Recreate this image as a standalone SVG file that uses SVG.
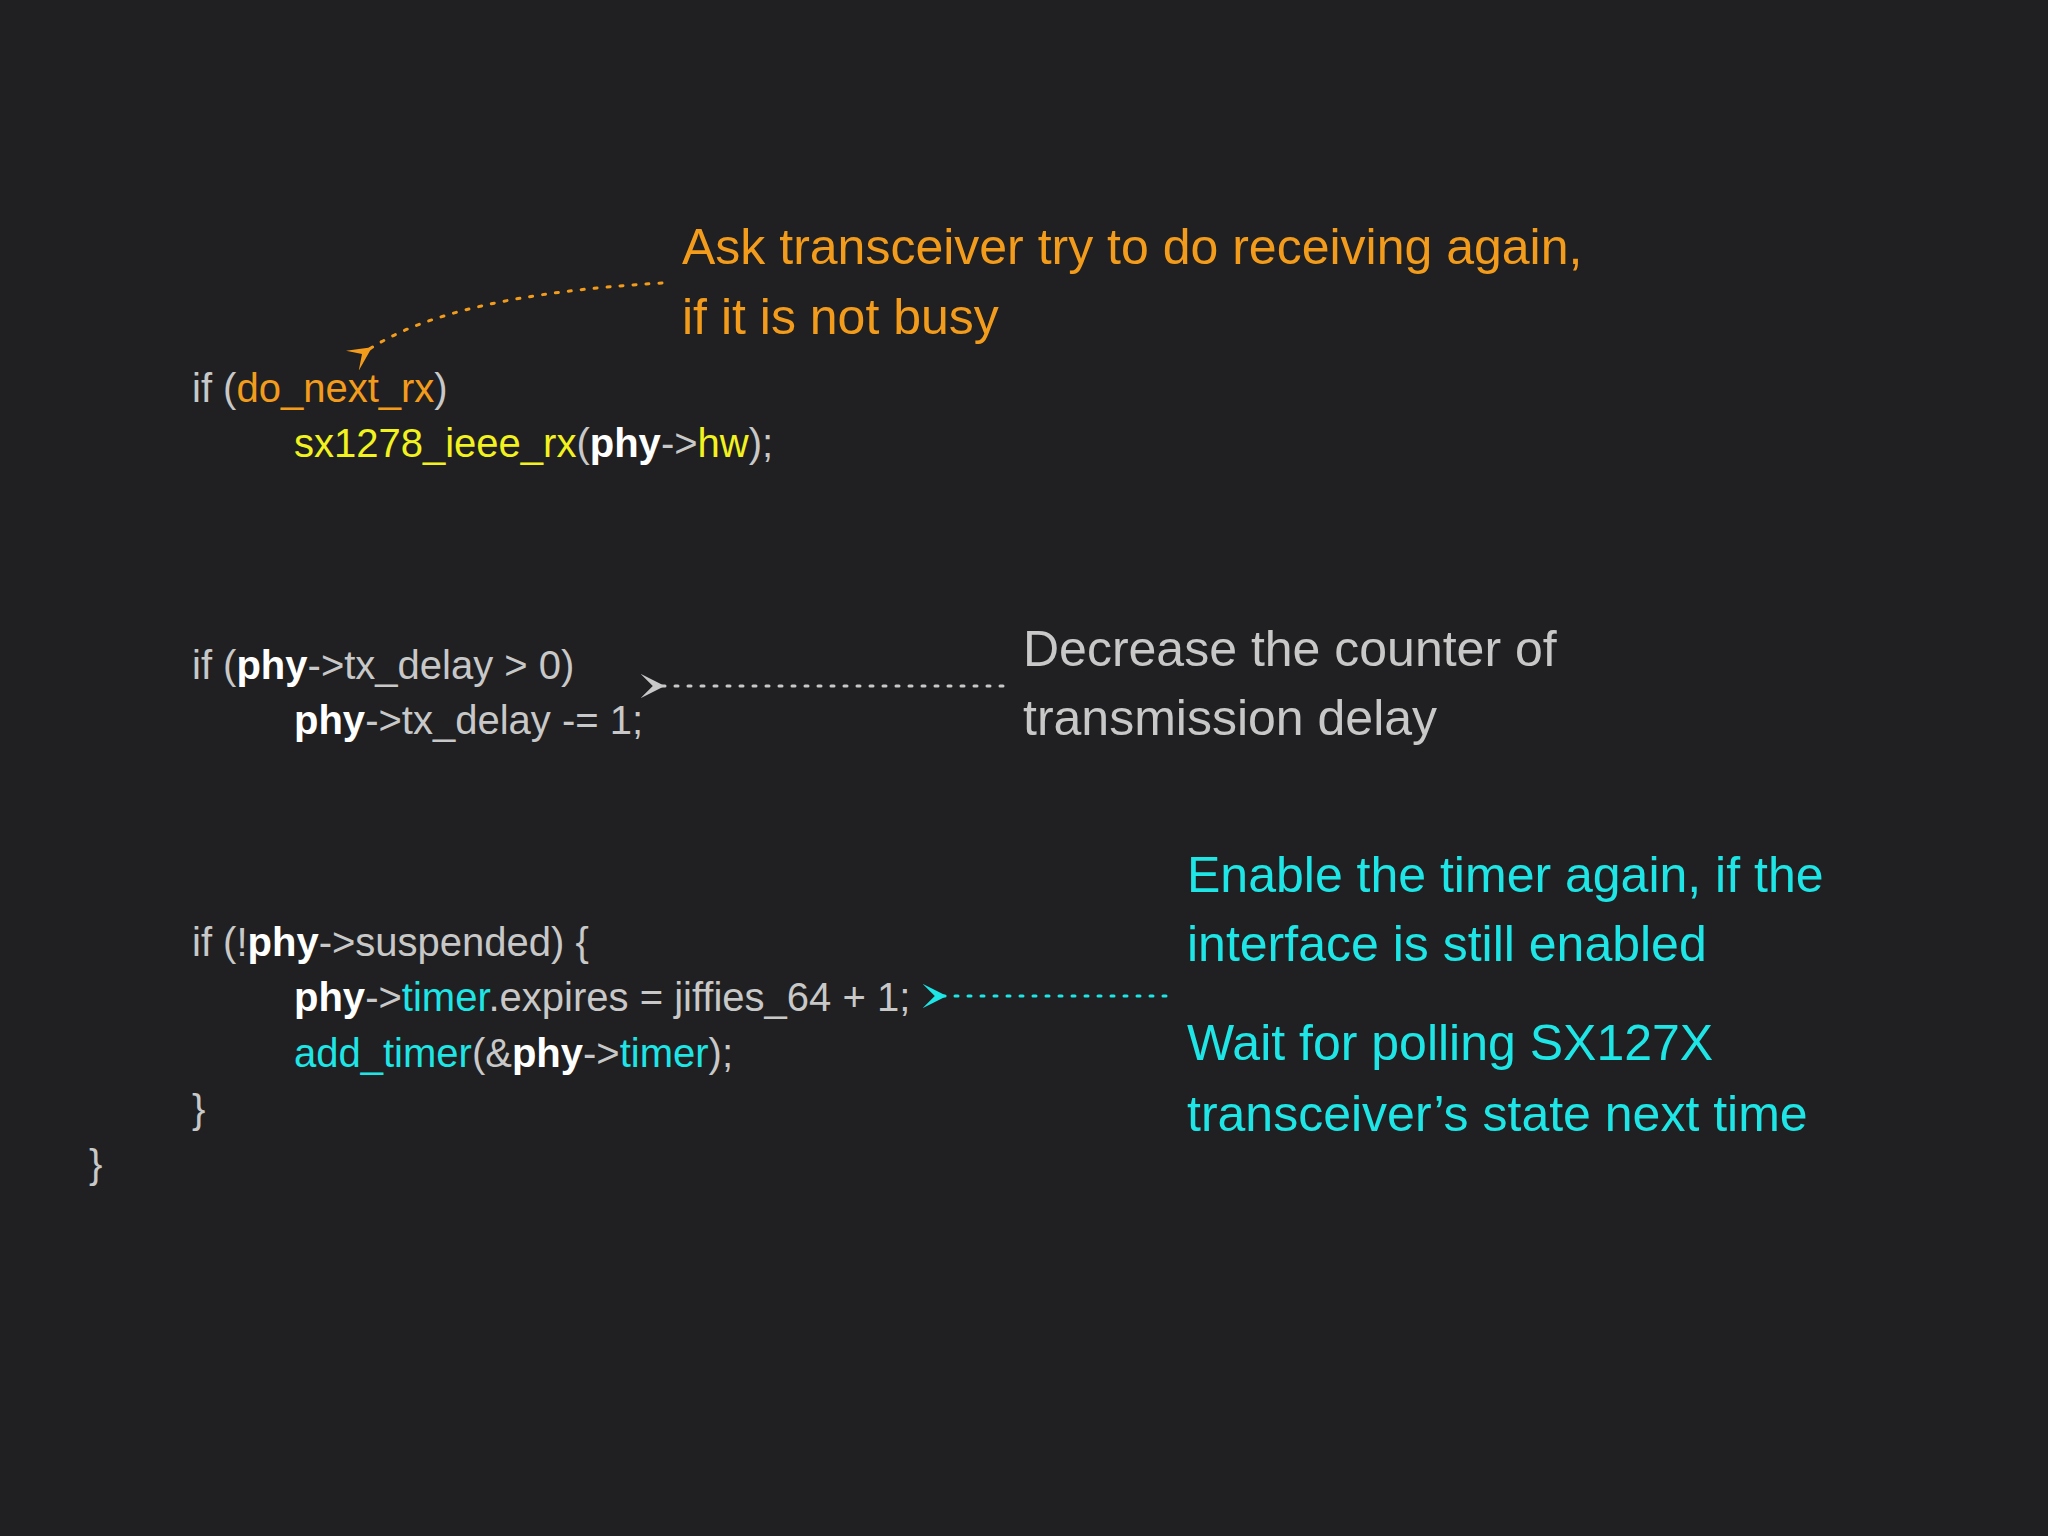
<svg xmlns="http://www.w3.org/2000/svg" width="2048" height="1536" viewBox="0 0 2048 1536">
<defs>
<style>
text{font-family:"Liberation Sans",Arial,sans-serif}
.code{font-size:40px;fill:#c8c8c8}
.note{font-size:50px}
.b{font-weight:bold;fill:#ffffff}
.o{fill:#f39c1c}
.y{fill:#f2f21e}
.c{fill:#1ee6e6}
.g{fill:#c8c8c8}
</style>
<marker id="ao" viewBox="0 0 10 10" refX="2" refY="5" markerWidth="8" markerHeight="8" orient="auto-start-reverse"><path d="M10,0 L0,5 L10,10 L5,5 Z" fill="#f39c1c"/></marker>
<marker id="ag" viewBox="0 0 10 10" refX="2" refY="5" markerWidth="8" markerHeight="8" orient="auto-start-reverse"><path d="M10,0 L0,5 L10,10 L5,5 Z" fill="#c8c8c8"/></marker>
<marker id="ac" viewBox="0 0 10 10" refX="2" refY="5" markerWidth="8" markerHeight="8" orient="auto-start-reverse"><path d="M10,0 L0,5 L10,10 L5,5 Z" fill="#1ee6e6"/></marker>
</defs>
<rect width="2048" height="1536" fill="#202022"/>
<g id="code">
<text class="code" x="192" y="402">if (<tspan class="o">do_next_rx</tspan>)</text>
<text class="code" x="294" y="457"><tspan class="y">sx1278_ieee_rx</tspan>(<tspan class="b">phy</tspan>-&gt;<tspan class="y">hw</tspan>);</text>
<text class="code" x="192" y="679">if (<tspan class="b">phy</tspan>-&gt;tx_delay &gt; 0)</text>
<text class="code" x="294" y="734"><tspan class="b">phy</tspan>-&gt;tx_delay -= 1;</text>
<text class="code" x="192" y="956">if (!<tspan class="b">phy</tspan>-&gt;suspended) {</text>
<text class="code" x="294" y="1011"><tspan class="b">phy</tspan>-&gt;<tspan class="c">timer</tspan>.expires = jiffies_64 + 1;</text>
<text class="code" x="294" y="1067"><tspan class="c">add_timer</tspan>(&amp;<tspan class="b">phy</tspan>-&gt;<tspan class="c">timer</tspan>);</text>
<text class="code" x="192" y="1123">}</text>
<text class="code" x="89" y="1178">}</text>
</g>
<g id="note1"><text class="note o" x="682" y="264">Ask transceiver try to do receiving again,</text><text class="note o" x="682" y="334">if it is not busy</text></g>
<g id="note2"><text class="note g" x="1023" y="666">Decrease the counter of</text><text class="note g" x="1023" y="735">transmission delay</text></g>
<g id="note3"><text class="note c" x="1187" y="892">Enable the timer again, if the</text><text class="note c" x="1187" y="961">interface is still enabled</text><text class="note c" x="1187" y="1060">Wait for polling SX127X</text><text class="note c" x="1187" y="1131">transceiver’s state next time</text></g>
<g id="connectors" fill="none" stroke-width="3" stroke-dasharray="3 10" stroke-linecap="round">
<path d="M662,283 Q450,295 368,350" stroke="#f39c1c" marker-end="url(#ao)"/>
<path d="M1003,686 L660,686" stroke="#c8c8c8" marker-end="url(#ag)"/>
<path d="M1166,996 L942,996" stroke="#1ee6e6" marker-end="url(#ac)"/>
</g>
</svg>
